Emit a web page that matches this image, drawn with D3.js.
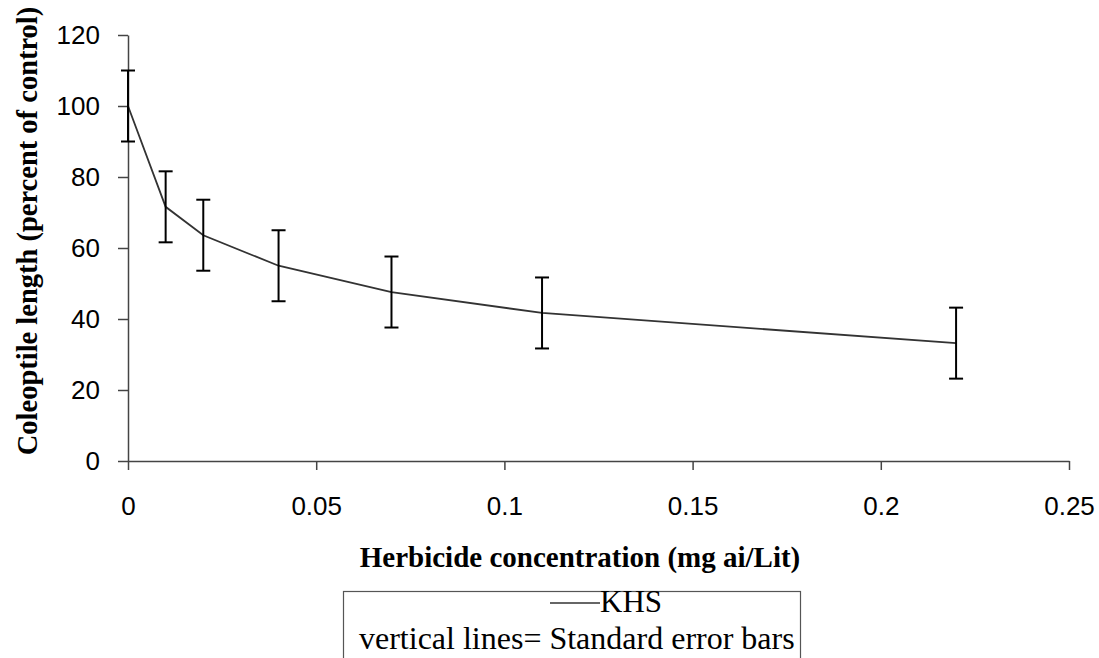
<!DOCTYPE html>
<html>
<head>
<meta charset="utf-8">
<script src="https://cdn.jsdelivr.net/npm/d3@7"></script>
<style>
  body { margin: 0; background: #fff; }
</style>
</head>
<body>
<div id="chart"></div>
<script>
// herbicide concentrations (mg ai/Lit)
const conc = [0, 0.01, 0.02, 0.04, 0.07, 0.11, 0.22];
// coleoptile length, percent of control
const lengthPct = [100, 71.6, 63.6, 55.0, 47.6, 41.7, 33.2];
// standard error
const stdErr = [10, 10, 10, 10, 10, 10, 10];
const xTicks = [0, 0.05, 0.1, 0.15, 0.2, 0.25];
const yTicks = [0, 20, 40, 60, 80, 100, 120];

const width = 1099;
const height = 658;

const x = d3.scaleLinear().domain([0, 0.25]).range([128, 1069]);
const y = d3.scaleLinear().domain([0, 120]).range([461, 35]);

const svg = d3.select("#chart")
    .append("svg")
    .attr("width", width)
    .attr("height", height);

// y axis
const yAxis = svg.append("g")
    .attr("transform", `translate(${x(0)},0)`)
    .call(d3.axisLeft(y).tickValues(yTicks).tickSize(10).tickSizeOuter(0).tickPadding(18).tickFormat(d3.format("")));
yAxis.selectAll("text")
    .attr("font-family", "'Liberation Sans', Arial, sans-serif")
    .attr("font-size", 26)
    .attr("fill", "#000");

// x axis
const xAxis = svg.append("g")
    .attr("transform", `translate(0,${y(0)})`)
    .call(d3.axisBottom(x).tickValues(xTicks).tickSize(9).tickSizeOuter(0).tickPadding(27).tickFormat(d => d3.format("")(+d.toFixed(2))));
xAxis.selectAll("text")
    .attr("font-family", "'Liberation Sans', Arial, sans-serif")
    .attr("font-size", 26)
    .attr("fill", "#000");

svg.selectAll(".domain, .tick line")
    .attr("stroke", "#444")
    .attr("stroke-width", 1.5);

// axis titles
svg.append("text")
    .attr("transform", `translate(37,231) rotate(-90)`)
    .attr("text-anchor", "middle")
    .attr("font-family", "'Liberation Serif', 'Times New Roman', serif")
    .attr("font-weight", "bold")
    .attr("font-size", 28.5)
    .text("Coleoptile length (percent of control)");

// the x title is cut just below its baseline in the original
svg.append("clipPath")
    .attr("id", "xtclip")
    .append("rect")
    .attr("x", 0).attr("y", 520)
    .attr("width", width).attr("height", 56);

svg.append("text")
    .attr("clip-path", "url(#xtclip)")
    .attr("x", 580)
    .attr("y", 567)
    .attr("text-anchor", "middle")
    .attr("font-family", "'Liberation Serif', 'Times New Roman', serif")
    .attr("font-weight", "bold")
    .attr("font-size", 29)
    .text("Herbicide concentration (mg ai/Lit)");

const pts = conc.map((c, i) => ({ c: c, v: lengthPct[i], e: stdErr[i] }));

// line
svg.append("path")
    .datum(pts)
    .attr("fill", "none")
    .attr("stroke", "#333")
    .attr("stroke-width", 1.8)
    .attr("d", d3.line().x(d => x(d.c)).y(d => y(d.v)));

// error bars
const eb = svg.append("g")
    .attr("stroke", "#000")
    .attr("stroke-width", 2)
    .selectAll("g")
    .data(pts)
    .join("g");
eb.append("line")
    .attr("x1", d => x(d.c)).attr("x2", d => x(d.c))
    .attr("y1", d => y(d.v + d.e)).attr("y2", d => y(d.v - d.e));
eb.append("line")
    .attr("x1", d => x(d.c) - 7).attr("x2", d => x(d.c) + 7)
    .attr("y1", d => y(d.v + d.e)).attr("y2", d => y(d.v + d.e));
eb.append("line")
    .attr("x1", d => x(d.c) - 7).attr("x2", d => x(d.c) + 7)
    .attr("y1", d => y(d.v - d.e)).attr("y2", d => y(d.v - d.e));

// legend box
const lg = svg.append("g");
lg.append("rect")
    .attr("x", 343.5)
    .attr("y", 591.5)
    .attr("width", 457)
    .attr("height", 90)
    .attr("fill", "#fff")
    .attr("stroke", "#555")
    .attr("stroke-width", 1.2);
lg.append("line")
    .attr("x1", 550).attr("x2", 600)
    .attr("y1", 603).attr("y2", 603)
    .attr("stroke", "#333")
    .attr("stroke-width", 1.5);
lg.append("text")
    .attr("x", 600)
    .attr("y", 612)
    .attr("font-family", "'Liberation Serif', 'Times New Roman', serif")
    .attr("font-size", 31)
    .text("KHS");
lg.append("text")
    .attr("x", 359)
    .attr("y", 649)
    .attr("font-family", "'Liberation Serif', 'Times New Roman', serif")
    .attr("font-size", 32)
    .text("vertical lines= Standard error bars");
</script>
</body>
</html>
